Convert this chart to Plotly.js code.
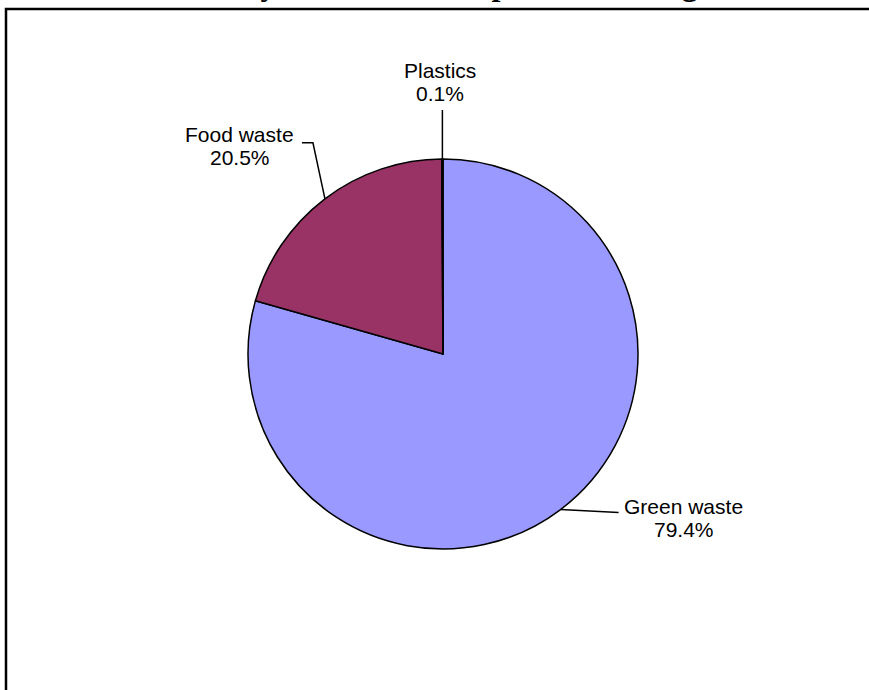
<!DOCTYPE html>
<html>
<head>
<meta charset="utf-8">
<script src="https://cdn.plot.ly/plotly-3.0.1.min.js"></script>
<style>html,body{margin:0;padding:0;background:#fff;}#chart{width:869px;height:690px;}</style>
</head>
<body>
<div id="chart"></div>
<script>
// ---- data ----
const labels = ['Green waste', 'Food waste', 'Plastics'];
const values = [79.4, 20.5, 0.1];
const percentLabels = ['79.4%', '20.5%', '0.1%'];
const colors = ['#9999FF', '#993366', '#FFFFCC'];
const titleText = 'Chart 4 \u2013 City of Swan \u2013 Composition of Organics Stream';

// ---- layout constants (pixels) ----
const W = 869, H = 690;
const CX = 443, CY = 354, R = 195;
const px = x => x / W;
const py = y => 1 - y / H;

// leader-line styling: offsets from slice edge point (knee, end) and text offsets from end
const leaderStyle = [
  {knee: null,       end: [58, 3],    text: [65, -6, 17]},
  {knee: [-12, -56], end: [-23, -56], text: [-62, -8, 15]},
  {knee: null,       end: [0, -49],   text: [-2, -40, -17]}
];

const total = values.reduce((a, b) => a + b, 0);
let cum = 0;
const shapes = [];
const annotations = [];
values.forEach((v, i) => {
  const theta = (cum + v / 2) / total * 2 * Math.PI;
  cum += v;
  const ex = CX + R * Math.sin(theta);
  const ey = CY - R * Math.cos(theta);
  const st = leaderStyle[i];
  const pts = [[ex, ey]];
  if (st.knee) pts.push([ex + st.knee[0], ey + st.knee[1]]);
  const end = [ex + st.end[0], ey + st.end[1]];
  pts.push(end);
  const path = pts.map((p, k) => (k ? 'L' : 'M') + px(p[0]) + ',' + py(p[1])).join(' ');
  shapes.push({type: 'path', xref: 'paper', yref: 'paper', path: path,
               line: {color: '#000', width: 1.5}});
  const tx = end[0] + st.text[0];
  annotations.push({xref: 'paper', yref: 'paper', x: px(tx), y: py(end[1] + st.text[1]),
    text: labels[i], showarrow: false, xanchor: 'center', yanchor: 'middle',
    font: {family: 'Arial, Liberation Sans', size: 21, color: '#000'}});
  annotations.push({xref: 'paper', yref: 'paper', x: px(tx), y: py(end[1] + st.text[2]),
    text: percentLabels[i], showarrow: false, xanchor: 'center', yanchor: 'middle',
    font: {family: 'Arial, Liberation Sans', size: 21, color: '#000'}});
});

// partially visible title (cut at the top of the picture, as in the reference)
annotations.push({xref: 'paper', yref: 'paper', x: px(78), y: py(4.5),
  xanchor: 'left', yanchor: 'bottom', showarrow: false, text: '<b>' + titleText + '</b>',
  font: {family: 'Times New Roman, Liberation Serif', size: 32, color: '#000'}});

// frame
shapes.push({type: 'rect', xref: 'paper', yref: 'paper',
  x0: px(6), x1: 1.2, y0: -0.2, y1: py(9), line: {color: '#000', width: 2.5}});

const trace = {
  type: 'pie',
  labels: labels,
  values: values,
  sort: false,
  direction: 'clockwise',
  rotation: 0,
  textinfo: 'none',
  hoverinfo: 'label+percent',
  marker: {colors: colors, line: {color: '#000', width: 1.5}},
  domain: {x: [px(CX - R), px(CX + R)], y: [py(CY + R), py(CY - R)]},
  showlegend: false
};

const layout = {
  width: W, height: H,
  margin: {l: 0, r: 0, t: 0, b: 0},
  paper_bgcolor: '#fff',
  showlegend: false,
  shapes: shapes,
  annotations: annotations
};

Plotly.newPlot('chart', [trace], layout, {staticPlot: true});
</script>
</body>
</html>
